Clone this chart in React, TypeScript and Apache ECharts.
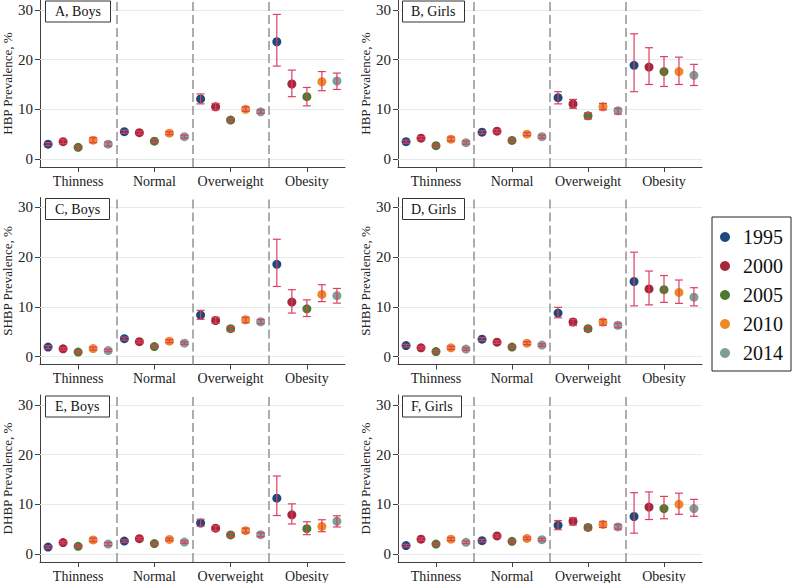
import React, { useEffect, useRef } from "react";
import * as echarts from "echarts";

const CATEGORIES = ["Thinness", "Normal", "Overweight", "Obesity"];
const YEARS = ["1995", "2000", "2005", "2010", "2014"];
const YEAR_COLORS = ["#1d4a7a", "#a2283a", "#4d7a2c", "#ee8a22", "#7f9e95"];
const Y_TICKS = [0, 10, 20, 30];
const PANEL_LABELS = ["A, Boys", "B, Girls", "C, Boys", "D, Girls", "E, Boys", "F, Girls"];
const Y_TITLES = [
  "HBP Prevalence, %",
  "HBP Prevalence, %",
  "SHBP Prevalence, %",
  "SHBP Prevalence, %",
  "DHBP Prevalence, %",
  "DHBP Prevalence, %",
];

// values indexed [category][year]
const hbpBoysMean = [[3.0, 3.5, 2.35, 3.8, 3.0], [5.5, 5.3, 3.6, 5.2, 4.5], [12.1, 10.5, 7.85, 10.0, 9.5], [23.6, 15.1, 12.55, 15.55, 15.7]];
const hbpBoysLow = [[2.7, 3.1, 2.05, 3.3, 2.6], [5.2, 5.0, 3.3, 4.9, 4.2], [11.1, 9.9, 7.5, 9.6, 9.2], [18.7, 12.55, 10.7, 13.75, 14.0]];
const hbpBoysHigh = [[3.3, 3.9, 2.65, 4.3, 3.4], [5.8, 5.6, 3.9, 5.5, 4.8], [13.1, 11.2, 8.2, 10.5, 9.9], [29.1, 17.9, 14.4, 17.6, 17.3]];

const hbpGirlsMean = [[3.5, 4.2, 2.7, 4.0, 3.3], [5.4, 5.6, 3.75, 5.0, 4.5], [12.35, 11.1, 8.7, 10.5, 9.7], [18.85, 18.5, 17.6, 17.6, 16.85]];
const hbpGirlsLow = [[3.2, 3.9, 2.4, 3.6, 3.0], [5.1, 5.3, 3.45, 4.7, 4.2], [11.1, 10.2, 8.05, 9.9, 9.05], [13.55, 15.0, 14.6, 15.0, 14.8]];
const hbpGirlsHigh = [[3.8, 4.5, 3.0, 4.4, 3.6], [5.7, 5.9, 4.05, 5.3, 4.8], [13.55, 12.0, 9.3, 11.2, 10.2], [25.2, 22.4, 20.6, 20.5, 19.05]];

const shbpBoysMean = [[1.9, 1.55, 0.9, 1.6, 1.2], [3.6, 3.0, 2.0, 3.1, 2.7], [8.35, 7.25, 5.6, 7.4, 7.0], [18.55, 10.95, 9.6, 12.5, 12.25]];
const shbpBoysLow = [[1.6, 1.3, 0.65, 1.3, 1.0], [3.3, 2.75, 1.75, 2.8, 2.45], [7.5, 6.7, 5.05, 6.8, 6.6], [14.1, 8.75, 8.05, 11.05, 10.75]];
const shbpBoysHigh = [[2.2, 1.8, 1.15, 1.9, 1.45], [3.9, 3.25, 2.25, 3.4, 2.95], [9.3, 7.9, 6.05, 7.9, 7.45], [23.6, 13.45, 11.4, 14.45, 13.7]];

const shbpGirlsMean = [[2.2, 1.75, 1.0, 1.75, 1.5], [3.5, 2.9, 1.9, 2.7, 2.3], [8.75, 6.95, 5.6, 6.95, 6.3], [15.1, 13.6, 13.45, 12.9, 11.95]];
const shbpGirlsLow = [[1.95, 1.5, 0.75, 1.45, 1.25], [3.2, 2.65, 1.65, 2.4, 2.05], [7.8, 6.25, 5.05, 6.3, 5.8], [10.2, 10.4, 10.9, 10.7, 10.2]];
const shbpGirlsHigh = [[2.45, 2.0, 1.25, 2.05, 1.75], [3.8, 3.15, 2.15, 3.0, 2.55], [9.9, 7.5, 6.05, 7.45, 6.7], [21.0, 17.2, 16.3, 15.4, 13.85]];

const dhbpBoysMean = [[1.4, 2.3, 1.55, 2.85, 2.0], [2.6, 3.1, 2.1, 2.95, 2.4], [6.25, 5.2, 3.85, 4.7, 3.9], [11.25, 7.9, 5.1, 5.55, 6.6]];
const dhbpBoysLow = [[1.15, 2.05, 1.3, 2.5, 1.7], [2.35, 2.85, 1.85, 2.7, 2.15], [5.6, 4.7, 3.4, 4.25, 3.5], [7.75, 6.05, 3.9, 4.5, 5.45]];
const dhbpBoysHigh = [[1.65, 2.55, 1.8, 3.2, 2.3], [2.85, 3.35, 2.35, 3.2, 2.65], [7.0, 5.65, 4.25, 5.2, 4.3], [15.7, 10.1, 6.5, 6.9, 7.7]];

const dhbpGirlsMean = [[1.7, 3.0, 2.0, 3.0, 2.35], [2.7, 3.65, 2.55, 3.15, 2.9], [5.8, 6.6, 5.35, 5.95, 5.45], [7.55, 9.45, 9.15, 10.0, 9.15]];
const dhbpGirlsLow = [[1.45, 2.75, 1.75, 2.7, 2.1], [2.45, 3.4, 2.3, 2.9, 2.65], [4.9, 5.85, 4.85, 5.35, 5.0], [4.2, 6.95, 7.1, 8.0, 7.6]];
const dhbpGirlsHigh = [[1.95, 3.25, 2.25, 3.3, 2.6], [2.95, 3.9, 2.8, 3.4, 3.15], [6.75, 7.3, 5.85, 6.55, 5.95], [12.35, 12.5, 11.6, 12.25, 11.0]];

const PANELS = [
  { mean: hbpBoysMean, low: hbpBoysLow, high: hbpBoysHigh },
  { mean: hbpGirlsMean, low: hbpGirlsLow, high: hbpGirlsHigh },
  { mean: shbpBoysMean, low: shbpBoysLow, high: shbpBoysHigh },
  { mean: shbpGirlsMean, low: shbpGirlsLow, high: shbpGirlsHigh },
  { mean: dhbpBoysMean, low: dhbpBoysLow, high: dhbpBoysHigh },
  { mean: dhbpGirlsMean, low: dhbpGirlsLow, high: dhbpGirlsHigh },
];

const FONT = "Liberation Serif";
const COL_LEFT = [40, 398];
const COL_WIDTH = [305, 304];
const ROW_TOP = [0, 197.5, 395];
const GRID_HEIGHT = 167;
const Y_MIN = -1.6;
const Y_MAX = 32;
const OFFSET = 0.197;
const ERR_COLOR = "#dc3f62";

function buildOption() {
  const grid: any[] = [];
  const xAxis: any[] = [];
  const yAxis: any[] = [];
  const series: any[] = [];
  const title: any[] = [];

  PANELS.forEach((panel, p) => {
    const col = p % 2;
    const row = Math.floor(p / 2);
    grid.push({ left: COL_LEFT[col], top: ROW_TOP[row], width: COL_WIDTH[col], height: GRID_HEIGHT });
    xAxis.push({
      type: "value",
      gridIndex: p,
      min: -0.5,
      max: 3.5,
      axisLine: { show: true, onZero: false, lineStyle: { color: "#404040", width: 1 } },
      axisTick: { show: true, length: 5, customValues: [0, 1, 2, 3], lineStyle: { color: "#404040" } },
      axisLabel: {
        customValues: [0, 1, 2, 3],
        formatter: (v: number) => CATEGORIES[Math.round(v)] ?? "",
        fontFamily: FONT,
        fontSize: 14,
        color: "#222",
        margin: 7,
      },
      splitLine: { show: false },
    });
    yAxis.push({
      type: "value",
      gridIndex: p,
      min: Y_MIN,
      max: Y_MAX,
      name: Y_TITLES[p],
      nameLocation: "middle",
      nameGap: 26,
      nameTextStyle: { fontFamily: FONT, fontSize: 13, color: "#222" },
      axisLine: { show: true, onZero: false, lineStyle: { color: "#404040", width: 1 } },
      axisTick: { show: true, length: 5, customValues: Y_TICKS, lineStyle: { color: "#404040" } },
      axisLabel: { customValues: Y_TICKS, fontFamily: FONT, fontSize: 15, color: "#222", margin: 7 },
      splitLine: { show: false },
    });

    title.push({
      text: PANEL_LABELS[p],
      left: COL_LEFT[col] + (col === 0 ? 5 : 4),
      top: ROW_TOP[row] + 0.5,
      padding: [4, col === 0 ? 10 : 9, 4, col === 0 ? 10 : 9],
      borderWidth: 1,
      borderColor: "#333",
      backgroundColor: "#fff",
      textStyle: { fontFamily: FONT, fontSize: 14, fontWeight: "normal", color: "#111" },
    });

    YEARS.forEach((year, y) => {
      series.push({
        type: "scatter",
        name: year,
        xAxisIndex: p,
        yAxisIndex: p,
        symbol: "circle",
        symbolSize: 9,
        z: 3,
        itemStyle: { color: YEAR_COLORS[y], opacity: 1 },
        data: CATEGORIES.map((_, c) => [c + (y - 2) * OFFSET, panel.mean[c][y]]),
      });
    });

    const errData: any[] = [];
    CATEGORIES.forEach((_, c) => {
      YEARS.forEach((_, y) => {
        errData.push([c + (y - 2) * OFFSET, panel.low[c][y], panel.high[c][y]]);
      });
    });

    const gridLines = Y_TICKS.map((v) => ({
      yAxis: v,
      lineStyle: { type: "solid", color: "#e4eded", width: 1 },
    }));
    const separators = [0.5, 1.5, 2.5].map((v) => ({
      xAxis: v,
      lineStyle: { type: [9, 4], color: "#939393", width: 1.5 },
    }));

    series.push({
      type: "custom",
      name: "errors" + p,
      xAxisIndex: p,
      yAxisIndex: p,
      z: 4,
      silent: true,
      encode: { x: 0, y: [1, 2] },
      data: errData,
      renderItem: (params: any, api: any) => {
        const x = api.value(0);
        const lo = api.coord([x, api.value(1)]);
        const hi = api.coord([x, api.value(2)]);
        const hw = 4;
        const style = { stroke: ERR_COLOR, lineWidth: 1.2, fill: null };
        return {
          type: "group",
          children: [
            { type: "line", shape: { x1: lo[0], y1: lo[1], x2: hi[0], y2: hi[1] }, style },
            { type: "line", shape: { x1: lo[0] - hw, y1: lo[1], x2: lo[0] + hw, y2: lo[1] }, style },
            { type: "line", shape: { x1: hi[0] - hw, y1: hi[1], x2: hi[0] + hw, y2: hi[1] }, style },
          ],
        };
      },
      markLine: {
        silent: true,
        symbol: "none",
        label: { show: false },
        z: 1,
        data: [...gridLines, ...separators],
      },
    });
  });

  return {
    animation: false,
    backgroundColor: "#fff",
    textStyle: { fontFamily: FONT },
    title,
    grid,
    xAxis,
    yAxis,
    series,
    legend: {
      data: YEARS,
      orient: "vertical",
      left: 712,
      top: 217,
      padding: [10, 8, 8, 8],
      itemGap: 9,
      itemWidth: 10,
      itemHeight: 10,
      icon: "circle",
      borderColor: "#222",
      borderWidth: 1,
      selectedMode: false,
      textStyle: { fontFamily: FONT, fontSize: 20, color: "#111", padding: [0, 0, 0, 8] },
    },
  };
}

export default function App() {
  const ref = useRef<HTMLDivElement>(null);
  useEffect(() => {
    if (!ref.current) return;
    const chart = echarts.init(ref.current, undefined, { renderer: "svg" });
    chart.setOption(buildOption() as any);
    return () => chart.dispose();
  }, []);
  return (
    <div
      ref={ref}
      style={{ position: "absolute", left: 0, top: 0, width: 800, height: 583, background: "#fff" }}
    />
  );
}
